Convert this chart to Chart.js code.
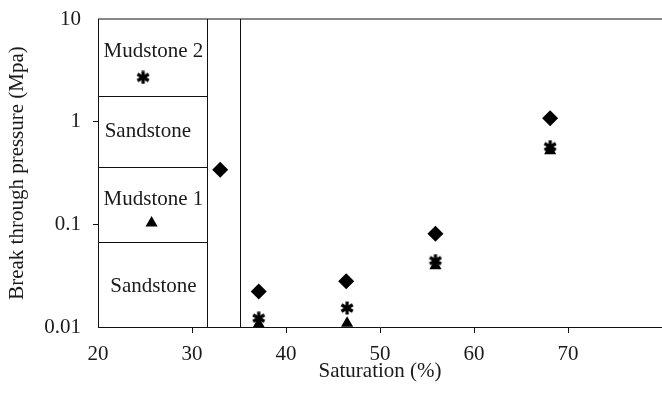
<!DOCTYPE html>
<html>
<head>
<meta charset="utf-8">
<script src="https://cdn.jsdelivr.net/npm/chart.js@4"></script>
<style>
html,body{margin:0;padding:0;background:#fff;}
#wrap{width:662px;height:394px;}
</style>
</head>
<body>
<div id="wrap"><canvas id="c" width="662" height="394"></canvas></div>
<script>
// ---- Data ----
const saturation = [33, 37.1, 46.4, 55.9, 68.1];
const diamondValues = [0.34, 0.0222, 0.0279, 0.081, 1.08];
const asteriskX = [37.1, 46.5, 55.9, 68.1];
const asteriskValues = [0.0122, 0.0153, 0.0443, 0.57];
const triangleX = [37.1, 46.5, 55.9, 68.1];
const triangleValues = [0.0107, 0.0109, 0.0395, 0.52];
const keyAsterisk = [{x: 24.8, y: 2.7}];
const keyTriangle = [{x: 25.7, y: 0.103}];
const yTickValues = [0.01, 0.1, 1, 10];
const yTickLabels = ['0.01', '0.1', '1', '10'];
const xTickValues = [20, 30, 40, 50, 60, 70];
// Lithology key box (inside the plot)
const boxLeft = 20, boxRight = 31.56, sideLine = 35.07;
const boxDividers = [1.78, 0.36, 0.067];
const boxLabels = ['Mudstone 2', 'Sandstone', 'Mudstone 1', 'Sandstone'];
const boxLabelY = [4.8, 0.8, 0.173, 0.0249];
const boxLabelX = [25.9, 25.3, 25.9, 25.9];

const FONT = '"Liberation Serif", "Times New Roman", serif';
const FS = 21;

function makeAsterisk(size, lw) {
  const cv = document.createElement('canvas');
  cv.width = size; cv.height = size;
  const g = cv.getContext('2d');
  g.strokeStyle = '#000'; g.lineWidth = lw; g.lineCap = 'butt';
  const c = size / 2, r = size / 2 - 0.5;
  [90, 30, 150].forEach(a => {
    const t = a * Math.PI / 180;
    g.beginPath();
    g.moveTo(c - r * Math.cos(t), c - r * Math.sin(t));
    g.lineTo(c + r * Math.cos(t), c + r * Math.sin(t));
    g.stroke();
  });
  return cv;
}
const asteriskImg = makeAsterisk(14, 3.2);

const keyBoxPlugin = {
  id: 'keyBox',
  beforeDatasetsDraw(chart) {
    const {ctx, scales: {x, y}, chartArea: a} = chart;
    ctx.save();
    ctx.strokeStyle = '#111';
    ctx.lineWidth = 1;
    ctx.beginPath();
    // top frame line
    ctx.moveTo(a.left, a.top); ctx.lineTo(a.right, a.top);
    // vertical lines
    [boxRight, sideLine].forEach(v => {
      const px = Math.round(x.getPixelForValue(v)) + 0.5;
      ctx.moveTo(px, a.top); ctx.lineTo(px, a.bottom);
    });
    // horizontal dividers in key box
    const x0 = x.getPixelForValue(boxLeft), x1 = Math.round(x.getPixelForValue(boxRight)) + 0.5;
    boxDividers.forEach(v => {
      const py = Math.round(y.getPixelForValue(v)) + 0.5;
      ctx.moveTo(x0, py); ctx.lineTo(x1, py);
    });
    ctx.stroke();
    ctx.fillStyle = '#1a1a1a';
    ctx.font = FS + 'px ' + FONT;
    ctx.textAlign = 'center';
    ctx.textBaseline = 'middle';
    boxLabels.forEach((t, i) => {
      ctx.fillText(t, x.getPixelForValue(boxLabelX[i]), y.getPixelForValue(boxLabelY[i]));
    });
    ctx.restore();
  }
};

new Chart(document.getElementById('c'), {
  type: 'scatter',
  data: {
    datasets: [
      {label: 'Diamond', data: saturation.map((v, i) => ({x: v, y: diamondValues[i]})),
       pointStyle: 'rectRot', pointRadius: 8, backgroundColor: '#000', borderColor: '#000', borderWidth: 0},
      {label: 'Asterisk', data: asteriskX.map((v, i) => ({x: v, y: asteriskValues[i]})),
       pointStyle: asteriskImg, pointRadius: 7},
      {label: 'Triangle', data: triangleX.map((v, i) => ({x: v, y: triangleValues[i]})),
       pointStyle: 'triangle', pointRadius: 7, backgroundColor: '#000', borderColor: '#000', borderWidth: 0},
      {label: 'Key asterisk', data: keyAsterisk, pointStyle: asteriskImg, pointRadius: 7},
      {label: 'Key triangle', data: keyTriangle, pointStyle: 'triangle', pointRadius: 7,
       backgroundColor: '#000', borderColor: '#000', borderWidth: 0}
    ]
  },
  options: {
    responsive: false,
    animation: false,
    events: [],
    layout: {autoPadding: false, padding: {left: 0, right: 0, top: 19, bottom: 0}},
    plugins: {legend: {display: false}, tooltip: {enabled: false}},
    scales: {
      x: {
        type: 'linear', min: 20, max: 80,
        afterBuildTicks: s => { s.ticks = xTickValues.concat([80]).map(v => ({value: v})); },
        afterFit: s => { s.height = 67; s.paddingRight = 0; s.paddingLeft = 0; },
        ticks: {
          color: '#1a1a1a', font: {family: FONT, size: FS}, padding: 9, maxRotation: 0,
          callback: v => (v === 80 ? '' : String(v))
        },
        grid: {
          drawOnChartArea: false, drawTicks: true, tickLength: 6,
          color: c => (c.tick && (c.tick.value === 20 || c.tick.value === 80) ? 'rgba(0,0,0,0)' : '#111')
        },
        border: {display: true, color: '#111', width: 1},
        title: {display: true, text: 'Saturation (%)', color: '#1a1a1a',
          font: {family: FONT, size: FS}, padding: {top: 0, bottom: 10}}
      },
      y: {
        type: 'logarithmic', min: 0.01, max: 10,
        afterBuildTicks: s => { s.ticks = yTickValues.map(v => ({value: v})); },
        afterFit: s => { s.width = 98; s.paddingTop = 0; s.paddingBottom = 0; },
        ticks: {
          color: '#1a1a1a', font: {family: FONT, size: FS}, padding: 12,
          callback: (v) => { const i = yTickValues.indexOf(v); return i >= 0 ? yTickLabels[i] : ''; }
        },
        grid: {
          drawOnChartArea: false, drawTicks: true, tickLength: 5,
          color: c => (c.tick && (c.tick.value === 0.01 || c.tick.value === 10) ? 'rgba(0,0,0,0)' : '#111')
        },
        border: {display: true, color: '#111', width: 1},
        title: {display: true, text: 'Break through pressure (Mpa)', color: '#1a1a1a',
          font: {family: FONT, size: FS}, padding: {top: 5, bottom: 0}}
      }
    }
  },
  plugins: [keyBoxPlugin]
});
</script>
</body>
</html>
